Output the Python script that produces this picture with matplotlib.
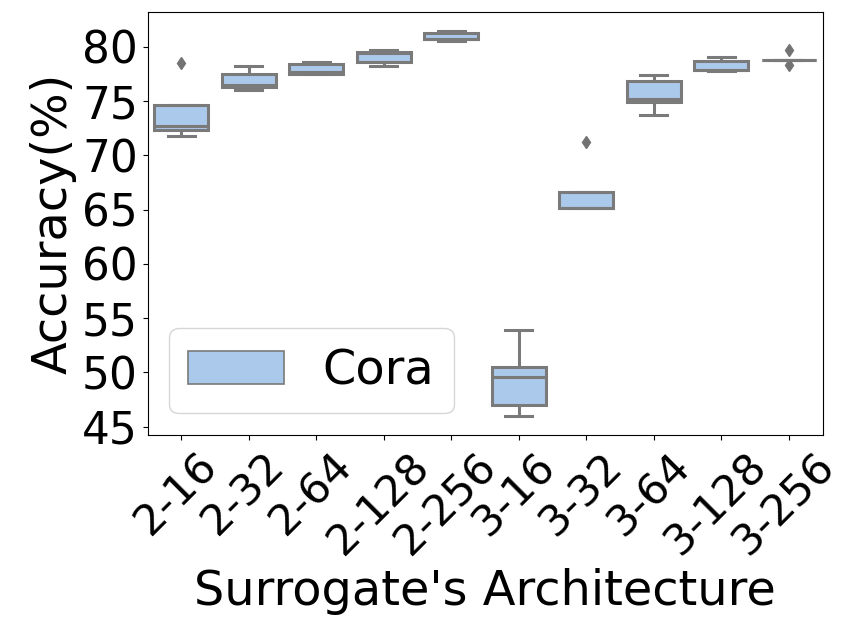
import numpy as np
import pandas as pd
import matplotlib
matplotlib.use('Agg')
import matplotlib.pyplot as plt
import matplotlib.transforms as mtransforms
import seaborn as sns

# surrogate architectures (layers-hidden units)
archs = ['2-16', '2-32', '2-64', '2-128', '2-256',
         '3-16', '3-32', '3-64', '3-128', '3-256']

# accuracy (%) of 5 runs per architecture
acc_2_16  = [71.8, 72.3, 72.7, 74.6, 78.5]
acc_2_32  = [76.0, 76.3, 76.5, 77.5, 78.2]
acc_2_64  = [77.5, 77.5, 77.7, 78.4, 78.6]
acc_2_128 = [78.2, 78.6, 79.45, 79.5, 79.7]
acc_2_256 = [80.5, 80.7, 80.75, 81.3, 81.45]
acc_3_16  = [46.0, 47.0, 49.6, 50.5, 53.9]
acc_3_32  = [65.1, 65.1, 65.15, 66.65, 71.2]
acc_3_64  = [73.7, 74.9, 75.2, 76.8, 77.4]
acc_3_128 = [77.8, 77.85, 77.9, 78.7, 79.1]
acc_3_256 = [78.3, 78.75, 78.75, 78.75, 79.7]

allAcc = [acc_2_16, acc_2_32, acc_2_64, acc_2_128, acc_2_256,
          acc_3_16, acc_3_32, acc_3_64, acc_3_128, acc_3_256]

yticks = [45, 50, 55, 60, 65, 70, 75, 80]

rows = []
for a, vals in zip(archs, allAcc):
    for v in vals:
        rows.append({'arch': a, 'acc': v, 'dataset': 'Cora'})
df = pd.DataFrame(rows)

fig = plt.figure(figsize=(8.46, 6.24), dpi=100)
ax = fig.add_axes([0.1746, 0.3029, 0.7979, 0.6782])

sns.boxplot(data=df, x='arch', y='acc', hue='dataset', order=archs,
            palette='pastel', linewidth=2.2, fliersize=6,
            flierprops={'marker': 'd', 'markerfacecolor': '0.45',
                        'markeredgecolor': '0.45'}, ax=ax)

ax.set_xlim(-0.5, 9.5)
ax.set_yticks(yticks)
ax.set_xlabel("Surrogate's Architecture", fontsize=34.5)
ax.set_ylabel('Accuracy(%)', fontsize=34.5)
ax.tick_params(axis='y', labelsize=31.5)
ax.tick_params(axis='x', labelsize=31)
plt.setp(ax.get_xticklabels(), rotation=45)

# nudge rotated labels a little left so the last one stays inside
shift = mtransforms.ScaledTranslation(-5/100., 0, fig.dpi_scale_trans)
for lbl in ax.get_xticklabels():
    lbl.set_transform(lbl.get_transform() + shift)

sns.move_legend(ax, 'lower left', fontsize=34.5, title=None,
                borderaxespad=0.45)
for h in ax.get_legend().legend_handles:
    h.set_linewidth(1.2)

fig.savefig('out.png', dpi=100)
